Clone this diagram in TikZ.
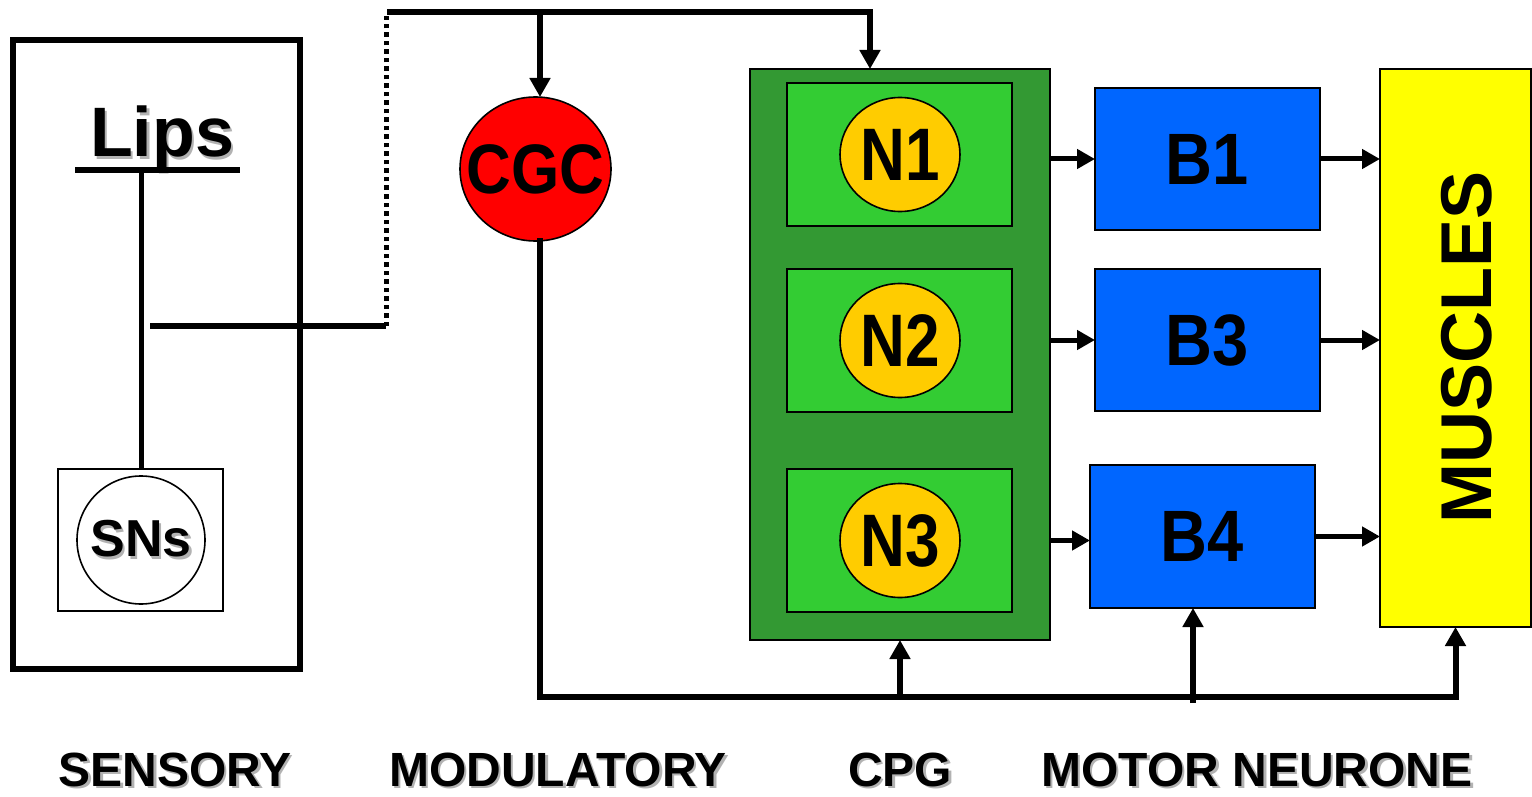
\documentclass[tikz,border=0pt]{standalone}
\usepackage{fontspec}
\setmainfont{Liberation Sans}
\usetikzlibrary{arrows.meta,shapes.geometric}

\definecolor{cpgdark}{HTML}{339933}
\definecolor{cpglight}{HTML}{33CC33}
\definecolor{cellgold}{HTML}{FFCC00}
\definecolor{motorblue}{HTML}{0066FF}
\definecolor{musyellow}{HTML}{FFFF00}
\definecolor{cgcred}{HTML}{FF0000}

% bold text at a given size, optionally stretched vertically
\newcommand{\bsz}[3]{\scalebox{1}[#2]{\fontsize{#1}{#1}\selectfont\bfseries #3}}
% bold text with a soft grey drop shadow
\newcommand{\shd}[2]{{\fontsize{#1}{#1}\selectfont\bfseries
  \makebox[0pt][l]{\hspace{2.5pt}\raisebox{-2.5pt}{\color{black!30}#2}}#2}}

\begin{document}
\begin{tikzpicture}[x=1pt,y=-1pt,
  box/.style={rectangle,inner sep=0,outer sep=0},
  thin box/.style={box,draw,line width=1.6},
  cell/.style={ellipse,draw,line width=1.6,inner sep=0,outer sep=0},
  txt/.style={inner sep=0},
  lbl/.style={inner sep=0,anchor=base},
  wire/.style={line width=6,line cap=rect},
  arr/.style={line width=6,-{Triangle[length=19,width=20]}},
  sarr/.style={line width=5,-{Triangle[length=18,width=19]}},
]
\useasboundingbox (0,0) rectangle (1532,797);

% ---- sensory block ----
\node[box,draw,line width=6,minimum width=287,minimum height=629] (sens) at (156.5,354.5) {};
\node[thin box,minimum width=165,minimum height=142] (snbox) at (140.5,540) {};
\node[cell,minimum width=128,minimum height=128] (sns) at (141,540) {};
\node[txt] (snstxt) at (sns.center) {\shd{52}{SNs}};
\node[lbl] (lips) at (162,157) {\shd{70}{Lips}};
\coordinate (ulA) at (75,170);
\coordinate (ulB) at (240,170);
\draw[line width=6] (ulA) -- (ulB);
\coordinate (lipsbar) at (141,170);
\draw[line width=5] (lipsbar) -- (lipsbar |- snbox.north);

% ---- modulatory block ----
\node[cell,fill=cgcred,minimum width=151,minimum height=144] (cgc) at (535.5,169) {};
\node[txt] (cgctxt) at (cgc.center) {\bsz{62}{1.13}{CGC}};

% ---- CPG block ----
\node[thin box,fill=cpgdark,minimum width=300,minimum height=571] (cpg) at (900,354.5) {};
\foreach \n/\y in {1/154.5,2/340.5,3/540.5}{
  \node[thin box,fill=cpglight,minimum width=225,minimum height=143] (n\n box) at (899.5,\y) {};
  \node[cell,fill=cellgold,minimum width=120,minimum height=114] (n\n) at (900,\y) {};
  \node[txt] (n\n txt) at (n\n.center) {\bsz{62}{1.2}{N\n}};
}

% ---- motor neurones ----
\node[thin box,fill=motorblue,minimum width=225,minimum height=142] (b1) at (1207.5,159) {\bsz{65}{1.12}{B1}};
\node[thin box,fill=motorblue,minimum width=225,minimum height=142] (b3) at (1207.5,340) {\bsz{65}{1.12}{B3}};
\node[thin box,fill=motorblue,minimum width=225,minimum height=143] (b4) at (1202.5,536.5) {\bsz{65}{1.12}{B4}};

% ---- muscles ----
\node[thin box,fill=musyellow,minimum width=151,minimum height=558] (mus) at (1455.5,348) {};
\node[inner sep=0,rotate=90] (muslbl) at (1467,347) {\bsz{72}{1}{MUSCLES}};

% ---- sensory output to the modulatory and CPG layers ----
\coordinate (tap) at (150,326);
\coordinate (bend) at (386,326);
\coordinate (rise) at (386,16);
\coordinate (topL) at (390,12);
\coordinate (topC) at (540,12);
\coordinate (topR) at (870,12);
\draw[line width=6] (tap) -- (bend);
\draw[line width=5,dash pattern=on 4.5 off 4] (bend) -- (rise);
\draw[wire] (topL) -- (topR);
\draw[arr] (topC) -- (topC |- cgc.north);
\draw[arr] (topR) -- (topR |- cpg.north);

% ---- CPG to motor neurones to muscles ----
\draw[sarr] (cpg.east |- b1) -- (b1.west);
\draw[sarr] (cpg.east |- b3) -- (b3.west);
\draw[sarr] (cpg.east |- n3) -- (b4.west |- n3);
\draw[sarr] (b1.east) -- (b1.east -| mus.west);
\draw[sarr] (b3.east) -- (b3.east -| mus.west);
\draw[sarr] (b4.east) -- (b4.east -| mus.west);

% ---- modulatory feedback bus ----
\coordinate (busL) at (540,697);
\coordinate (busB4) at (1193,703);
\draw[wire] (cgc.south -| busL) -- (busL) -- (busL -| mus.south);
\draw[arr] (cpg.south |- busL) -- (cpg.south);
\draw[arr] (busB4) -- (busB4 |- b4.south);
\draw[arr] (mus.south |- busL) -- (mus.south);

% ---- layer captions ----
\node[lbl] (capS) at (175,786) {\shd{48}{SENSORY}};
\node[lbl] (capM) at (558,786) {\shd{48}{MODULATORY}};
\node[lbl] (capC) at (900,786) {\shd{48}{CPG}};
\node[lbl] (capN) at (1257,786) {\shd{48}{MOTOR NEURONE}};
\end{tikzpicture}
\end{document}
